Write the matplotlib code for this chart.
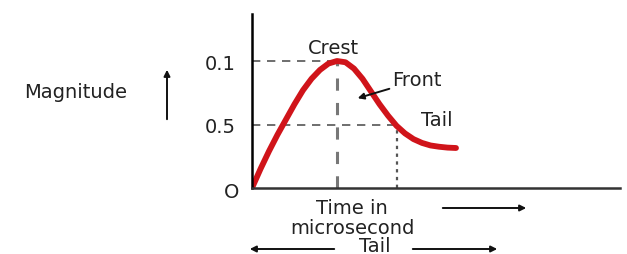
import matplotlib
matplotlib.use('Agg')
import matplotlib.pyplot as plt

# Wave shape (time in arbitrary units, magnitude normalised to crest)
time = [0.0, 0.1, 0.2, 0.3, 0.4, 0.5, 0.6, 0.7, 0.8, 0.9, 1.0, 1.1, 1.2, 1.3,
        1.4, 1.5, 1.6, 1.7, 1.8, 1.9, 2.0, 2.1, 2.2, 2.3, 2.4]
magnitude = [0.0, 0.15, 0.29, 0.42, 0.54, 0.66, 0.77, 0.86, 0.93, 0.98, 1.0, 0.99, 0.94, 0.86,
             0.76, 0.66, 0.57, 0.49, 0.43, 0.385, 0.355, 0.335, 0.325, 0.318, 0.315]
crest = (1.0, 1.0)
tail = (1.7, 0.5)
ytick_values = [0.5, 1.0]
ytick_labels = ['0.5', '0.1']

W, H = 627, 255
TXT = '#222222'
FS = 14


def fpos(x, y):
    # pixel position in the figure -> figure fraction
    return x / W, 1 - y / H


fig = plt.figure(figsize=(W / 100, H / 100), dpi=100)
ax = fig.add_axes([252 / W, 66 / H, 368 / W, 174 / H])
ax.set_xlim(0, 368 / 85)
ax.set_ylim(0, 174 / 127)

# guide lines
ax.plot([0, crest[0]], [crest[1], crest[1]], ls=(0, (5, 4)), color='#555555', lw=1.2)
ax.plot([0, tail[0]], [tail[1], tail[1]], ls=(0, (5, 4)), color='#555555', lw=1.2)
ax.plot([crest[0], crest[0]], [0, crest[1]], ls=(0, (4, 4)), color='#777777', lw=2.2)
ax.plot([tail[0], tail[0]], [0, tail[1]], ls=(0, (1.5, 2)), color='#555555', lw=1.6)

ax.plot(time, magnitude, color='#d0141a', lw=4.2, solid_capstyle='round', solid_joinstyle='round')

for side in ['top', 'right']:
    ax.spines[side].set_visible(False)
ax.spines['left'].set_linewidth(1.8)
ax.spines['bottom'].set_linewidth(1.8)
ax.spines['bottom'].set_color('#333333')
ax.set_xticks([])
ax.set_yticks(ytick_values)
ax.set_yticklabels(ytick_labels, fontsize=FS, color=TXT)
ax.tick_params(axis='y', length=0, pad=12)

# texts
fig.text(*fpos(232, 193), 'O', fontsize=FS, color=TXT, ha='center', va='center')
fig.text(*fpos(76, 92), 'Magnitude', fontsize=FS, color=TXT, ha='center', va='center')
fig.text(*fpos(333, 48), 'Crest', fontsize=FS, color=TXT, ha='center', va='center')
fig.text(*fpos(417, 80), 'Front', fontsize=FS, color=TXT, ha='center', va='center')
fig.text(*fpos(437, 121), 'Tail', fontsize=FS, color=TXT, ha='center', va='center')
fig.text(*fpos(352, 209), 'Time in', fontsize=FS, color=TXT, ha='center', va='center')
fig.text(*fpos(352, 228), 'microsecond', fontsize=FS, color=TXT, ha='center', va='center')
fig.text(*fpos(375, 247), 'Tail', fontsize=FS, color=TXT, ha='center', va='center')


def arrow(x0, y0, x1, y1):
    fig.add_artist(matplotlib.patches.FancyArrowPatch(
        fpos(x0, y0), fpos(x1, y1), transform=fig.transFigure,
        arrowstyle='-|>', mutation_scale=9, color='#111111', lw=1.4))


arrow(167, 123, 167, 68)
arrow(392, 89, 355, 100)
arrow(440, 209, 529, 209)
arrow(337, 250, 247, 250)
arrow(410, 250, 500, 250)

fig.savefig('out.png', dpi=100)
